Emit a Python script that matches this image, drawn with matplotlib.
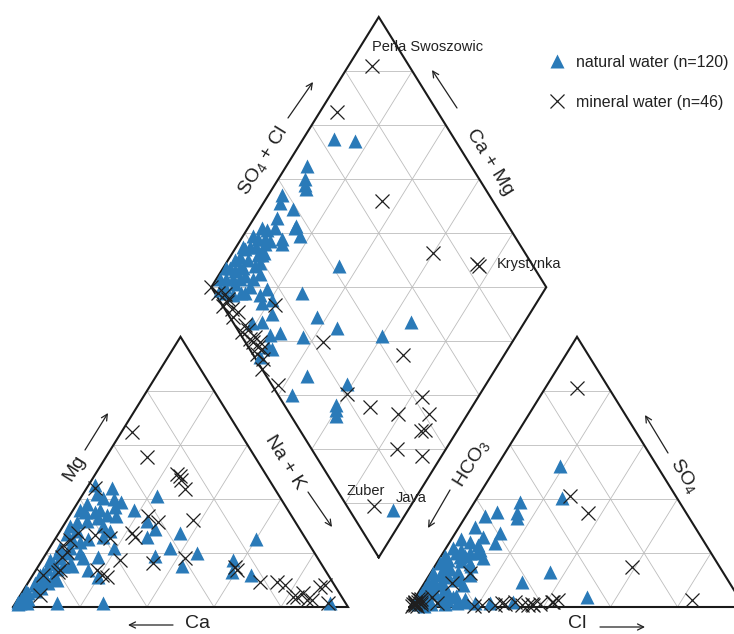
import numpy as np
import matplotlib
matplotlib.use('Agg')
import matplotlib.pyplot as plt

plt.rcParams['font.family'] = ['Liberation Sans', 'DejaVu Sans']
plt.rcParams['mathtext.fontset'] = 'custom'
plt.rcParams['mathtext.rm'] = 'Liberation Sans'
plt.rcParams['mathtext.it'] = 'Liberation Sans:italic'

# ---------------- data (percent of meq) ----------------
# cation triangle: Mg %, Na+K %  (Ca = rest)
cat_nat_mg = [45, 44, 40.5, 38.7, 36, 35, 35, 34, 33.5, 31.6, 32, 41, 32, 29, 26, 27.5, 22, 19, 28, 22,
              18.6, 13.8, 11, 27, 22, 20, 17.5, 12.6, 9, 5, 1.5, 1.5, 1.5, 1.5, 15, 15, 11, 20, 17.5, 13,
              12, 25, 1.5, 38, 36, 30, 28, 25, 24, 22, 20, 18, 16, 14, 12, 10, 8, 6, 4, 3,
              2, 1, 7, 10, 15, 25, 33, 36, 20, 18, 42, 40, 37, 30, 26, 14, 9, 6, 3, 16]
cat_nat_nak = [2, 7.5, 6.6, 13, 18, 4, 7, 11, 14, 3.3, 6, 22.5, 24, 28, 27, 36, 36, 33, 15, 19,
               16, 15.5, 20, 2.7, 6, 3.4, 2.3, 2.7, 2, 2, 1.3, 3.4, 12.4, 26, 43, 7.5, 6.3, 45, 57, 59,
               65, 60, 94, 3, 2, 2, 5, 5, 8, 3, 6, 5, 4, 3, 2, 4, 3, 1, 2, 1,
               0.5, 1, 5, 8, 10, 10, 9, 8, 10, 12, 4, 10, 12, 12, 14, 6, 6, 4, 3, 9]
cat_min_mg = [64.7, 55.4, 49.1, 48.3, 43.5, 44.2, 33.5, 31.6, 27.5, 26, 25.7, 26.8, 27.5, 24.9, 23, 20.4,
              18.6, 17.5, 16.4, 13.8, 11.9, 13, 13.8, 11.9, 11.2, 4.5, 18.2, 32.3, 14.9, 13.8, 9.3, 9.3,
              8.2, 3.7, 2.6, 7.4, 8.2, 2.6, 1.5, 3.7, 5.2, 47]
cat_min_nak = [3.2, 12.3, 24.4, 25.7, 29.6, 2.4, 23.5, 27.5, 21.8, 23.4, 16.1, 11.1, 5.7, 4.6, 3.4, 5.9,
               5.3, 23.2, 33.6, 7.1, 3, 6.9, 18.2, 20.6, 22.5, 5.8, 42.2, 37.6, 58.8, 60, 69.1, 74.2,
               77.1, 82.9, 86.5, 87.9, 89, 88, 93.3, 81.7, 84, 26.5]

# anion triangle: SO4 %, Cl %  (HCO3 = rest)
an_nat_so4 = [52, 40.5, 39, 34.9, 33.1, 35.3, 33.5, 29.7, 27.5, 23.8, 21.2, 20.1, 18.6, 17.5, 16.4, 12.6,
              8.9, 5.2, 3.7, 1.5, 1.5, 1.5, 1.9, 9.3, 13, 3.7, 22, 20, 19, 15, 14, 12, 11, 10, 8, 7,
              6, 5, 4, 3, 2, 1, 2, 6, 10, 24, 25, 20, 3, 1, 4, 17, 13, 9, 16, 26, 2, 1, 3, 8, 12, 18,
              23, 19, 15, 11, 7, 5, 13, 21, 0.5, 2.5]
an_nat_cl = [18.9, 25.3, 13.5, 14.6, 15.5, 8.5, 5.8, 4.7, 13.3, 13.6, 10.4, 8, 5.8, 2.7, 0.9, 0.7,
             1.1, 1.1, 11.1, 13.4, 18.8, 23.3, 29.9, 28.9, 35.4, 51.1, 2, 4, 1, 3, 5, 3, 6, 2, 4, 1,
             3, 5, 1, 3, 1, 2, 5, 8, 9, 6, 3, 10, 8, 10, 12, 7, 8, 5, 10, 9, 16, 6, 15, 12, 12, 13,
             9, 7, 11, 9, 7, 9, 4, 5, 4, 10]
an_min_so4 = [81, 40.9, 34.9, 14.9, 2.6, 1.9, 0.7, 0.7, 12.6, 8.9, 1.5, 1.5, 2, 1, 2.5, 0.5, 1, 3, 2,
              0.7, 0.7, 1.9, 1.1, 1.1, 1.9, 2.6, 1.1, 0.7, 3.7, 0.5, 1.5, 1, 2, 0.5, 1.5, 3, 0.8]
an_min_cl = [9.5, 27.5, 35.8, 59, 83, 41.9, 36.5, 33.2, 11.8, 8.2, 7.5, 1, 0.5, 1.5, 2, 0.5, 3, 1, 2.5,
             21.3, 25.2, 30.5, 36, 38.4, 41.6, 43, 28, 35, 5, 19, 27, 0.5, 1.5, 2, 0.8, 2, 1.2]

# diamond: Ca+Mg %, SO4+Cl %
dia_nat_camg = [91, 84, 94, 92, 91, 90, 96, 95, 90, 93, 92, 86, 83, 88, 87, 66,
                95, 96, 97, 98, 99, 90.5, 91, 92, 93.5, 88, 88.5, 95, 97, 94, 96, 92, 98, 93, 97, 99,
                94, 91, 89, 95, 90, 92, 97,
                83, 84, 72, 63, 77, 71, 63.5, 55, 70.5, 72.5, 55, 56, 81, 40, 34, 41.6, 41, 40, 39,
                4.7, 86, 78.5, 73.7, 72, 82, 79.5,
                96, 94, 92, 90, 98, 95, 93, 91, 89, 97, 94, 96]
dia_nat_so4cl = [64, 70, 51, 48, 47, 46.5, 38, 36, 39, 32.5, 30, 36.6, 36, 30, 29, 42,
                 23, 19, 14, 9, 4, 22, 17, 12, 7.5, 17, 11.5, 3, 6, 16, 10, 20, 12, 25, 22, 8,
                 27, 26, 14, 12, 8, 5, 2,
                 16.5, 13, 26, 26, 13, 12, 18, 30, 6.6, 1.5, 12, 4, 5.6, 42, 53, 22.5, 15.5, 14.4, 13.5,
                 13, 36, 8.6, 8.6, 5.8, 12, 15.7,
                 26, 21, 24, 19, 17, 8, 10, 21, 9, 17, 13, 4]
dia_min_camg = [93, 95, 65, 40, 25, 24, 100, 97, 94.7, 92.6, 93, 89.8, 87.5, 83, 81, 77.8, 77.4, 75.3,
                73.5, 74, 71.3, 69.7, 62, 77.7, 56.5, 82.6, 92.8, 30.3, 39.7, 30.5, 20.8, 16.8, 11.5,
                10.8, 9.8, 14.6, 6, 11.1, 88, 78.9, 75]
dia_min_so4cl = [89, 70, 67, 72.5, 83.5, 84, 0, 1, 2.7, 1.9, 0, 2, 3.3, 3, 3, 3.7, 2.2, 4.3,
                 3.6, 1.2, 2, 0, 1.7, 15.6, 23.1, 0.8, 2.7, 44.6, 20.6, 25.1, 32.1, 42.5, 41.4,
                 35.9, 37.2, 25.4, 31.7, 8.1, 0.8, 1.9, 2.8]

labels_named = {'Perła Swoszowic': ('min', 0), 'Krystynka': ('min', 4),
                'Zuber': ('min', 37), 'Java': ('nat', 62)}

legend_labels = ['natural water (n=120)', 'mineral water (n=46)']

# ---------------- geometry ----------------
H = np.sqrt(3) / 2
GAP = 0.1836


def cation_xy(mg, nak):
    mg = np.asarray(mg) / 100.0
    nak = np.asarray(nak) / 100.0
    return nak + mg / 2, mg * H


def anion_xy(so4, cl):
    so4 = np.asarray(so4) / 100.0
    cl = np.asarray(cl) / 100.0
    return 1 + GAP + cl + so4 / 2, so4 * H


def diamond_xy(camg, so4cl):
    camg = np.asarray(camg) / 100.0
    so4cl = np.asarray(so4cl) / 100.0
    bx, by = 1 + GAP / 2, GAP * H
    return bx + 0.5 * (so4cl - camg), by + H * (camg + so4cl)


W, HPX = 734, 634
fig = plt.figure(figsize=(W / 100, HPX / 100), dpi=100)
ax = fig.add_axes([0, 0, 1, 1])
X0, Y0, SX, SY = 13, 607, 335, 312
ax.set_xlim(-X0 / SX, (W - X0) / SX)
ax.set_ylim(-(HPX - Y0) / SY, Y0 / SY)
ax.axis('off')


def p2d(px, py):
    return (px - X0) / SX, (Y0 - py) / SY


GRID = dict(color='#bdbdbd', lw=0.6, zorder=1)
EDGE = dict(color='#1a1a1a', lw=1.5, zorder=2, solid_joinstyle='miter')
ticks = [0.2, 0.4, 0.6, 0.8]


def draw_triangle(ox):
    for t in ticks:
        ax.plot([ox + t / 2, ox + 1 - t / 2], [t * H, t * H], **GRID)
        ax.plot([ox + t, ox + t + (1 - t) / 2], [0, (1 - t) * H], **GRID)
        ax.plot([ox + t, ox + t / 2], [0, t * H], **GRID)
    ax.plot([ox, ox + 1, ox + 0.5, ox], [0, 0, H, 0], **EDGE)


draw_triangle(0)
draw_triangle(1 + GAP)

# diamond
bx, by = 1 + GAP / 2, GAP * H
for t in ticks:
    p0 = diamond_xy(t * 100, 0)
    p1 = diamond_xy(t * 100, 100)
    ax.plot([p0[0], p1[0]], [p0[1], p1[1]], **GRID)
    p0 = diamond_xy(0, t * 100)
    p1 = diamond_xy(100, t * 100)
    ax.plot([p0[0], p1[0]], [p0[1], p1[1]], **GRID)
for k in range(1, 10):
    h = k * 0.2 * H
    hw = 0.5 * h / H if h <= H else 0.5 * (2 * H - h) / H
    ax.plot([bx - hw, bx + hw], [by + h, by + h], **GRID)
ax.plot([bx, bx - 0.5, bx, bx + 0.5, bx], [by, by + H, by + 2 * H, by + H, by], **EDGE)

# ---------------- points ----------------
BLUE = '#2a7ab8'
TRI = dict(marker='^', ms=10.5, color=BLUE, ls='none', mec='none', zorder=3)
CRS = dict(marker='x', ms=9.5, color='#1f1f1f', mew=0.9, ls='none', zorder=4)

h_nat, = ax.plot(*cation_xy(cat_nat_mg, cat_nat_nak), **TRI)
ax.plot(*anion_xy(an_nat_so4, an_nat_cl), **TRI)
ax.plot(*diamond_xy(dia_nat_camg, dia_nat_so4cl), **TRI)
h_min, = ax.plot(*cation_xy(cat_min_mg, cat_min_nak), **CRS)
ax.plot(*anion_xy(an_min_so4, an_min_cl), **CRS)
ax.plot(*diamond_xy(dia_min_camg, dia_min_so4cl), **CRS)

# named samples
offsets = {'Perła Swoszowic': (0, 19, 'left'), 'Krystynka': (20, 0, 'left'),
           'Zuber': (-8, 15, 'center'), 'Java': (19, 12, 'center')}
for name, (grp, idx) in labels_named.items():
    if grp == 'min':
        xy = diamond_xy(dia_min_camg[idx], dia_min_so4cl[idx])
    else:
        xy = diamond_xy(dia_nat_camg[idx], dia_nat_so4cl[idx])
    dx, dy, ha = offsets[name]
    ax.annotate(name, xy=(float(xy[0]), float(xy[1])), xytext=(dx, dy), textcoords='offset pixels',
                ha=ha, va='center', fontsize=10.5, color='#222222', zorder=5)

# ---------------- axis labels and arrows ----------------
ANG = np.degrees(np.arctan2(H * SY, 0.5 * SX))
LAB = dict(fontsize=14, color='#222222', ha='center', va='center', rotation_mode='anchor')


def label(txt, px, py, rot):
    ax.text(*p2d(px, py), txt, rotation=rot, **LAB)


def arrow(p_from, p_to):
    ax.annotate('', xy=p2d(*p_to), xytext=p2d(*p_from),
                arrowprops=dict(arrowstyle='->', lw=0.9, color='#222222', shrinkA=0, shrinkB=0,
                                mutation_scale=11))


label('SO$_4$ + Cl', 263, 161, ANG)
arrow((288, 118), (313, 82))
label('Ca + Mg', 490, 162, -ANG)
arrow((457, 108), (432, 70))
label('Mg', 74, 468, ANG)
arrow((85, 450), (108, 413))
label('Na + K', 285, 462, -ANG)
arrow((308, 492), (332, 527))
label('Ca', 197, 624, 0)
arrow((173, 625), (128, 625))
label('Cl', 577, 624, 0)
arrow((600, 627), (645, 627))
label('HCO$_3$', 471, 463, ANG)
arrow((450, 490), (428, 528))
label('SO$_4$', 684, 476, -ANG)
arrow((668, 453), (645, 415))

# ---------------- legend ----------------
ax.legend([h_nat, h_min], legend_labels, loc='upper left',
          bbox_to_anchor=(547 / W, 1 - 55 / HPX), frameon=False, fontsize=11.5,
          handlelength=1.2, handletextpad=0.6, labelspacing=1.55, borderpad=0,
          borderaxespad=0, labelcolor='#222222')

fig.savefig('out.png', dpi=100)
